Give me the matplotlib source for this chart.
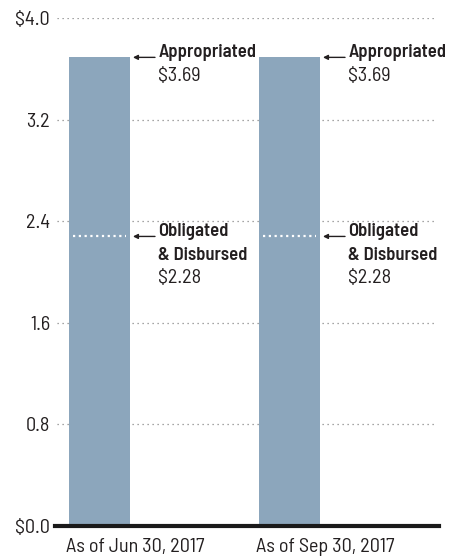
import matplotlib
matplotlib.use("Agg")
import matplotlib.pyplot as plt

plt.rcParams['font.family'] = ['Barlow Semi Condensed', 'DejaVu Sans']

periods = ["As of Jun 30, 2017", "As of Sep 30, 2017"]
appropriated = [3.69, 3.69]
obligated = [2.28, 2.28]
yticks = [0.0, 0.8, 1.6, 2.4, 3.2, 4.0]
ytick_labels = ["$0.0", "0.8", "1.6", "2.4", "3.2", "$4.0"]

bar_color = '#8CA6BC'
text_color = '#231F20'
bar_w = 0.32
fs = 14.5       # regular text
fs_bold = 13.4  # callout headings

fig = plt.figure(figsize=(4.55, 5.56), dpi=100)
ax = fig.add_axes([57 / 455, 30 / 556, 380 / 455, 508 / 556])

xs = list(range(len(periods)))
ax.bar(xs, appropriated, width=bar_w, color=bar_color, zorder=2)

# dotted gridlines
for y in yticks[1:]:
    ax.axhline(y, color='#888888', lw=0.9, ls=(0, (1, 3)), zorder=1)


def callout(x, y, lines):
    ax.annotate("", xy=(x + 0.176, y), xytext=(x + 0.292, y),
                arrowprops=dict(arrowstyle='-|>', color=text_color, lw=1.0,
                                mutation_scale=7, shrinkA=0, shrinkB=0))
    for k, (s, bold) in enumerate(lines):
        ax.text(x + 0.31, y - 0.185 * k, s, fontsize=fs_bold if bold else fs,
                color=text_color, fontweight=600 if bold else 'normal',
                va='baseline', ha='left')


for i, x in enumerate(xs):
    # obligated level inside the bar
    ax.plot([x - bar_w / 2 + 0.02, x + bar_w / 2 - 0.02], [obligated[i], obligated[i]],
            color='white', lw=1.6, ls=(0, (1, 1.6)), zorder=3)

    callout(x, appropriated[i], [("Appropriated", True), (f"${appropriated[i]:.2f}", False)])
    callout(x, obligated[i], [("Obligated", True), ("& Disbursed", True),
                              (f"${obligated[i]:.2f}", False)])

    ax.text(x - bar_w / 2 - 0.015, -0.205, periods[i], fontsize=fs, color=text_color,
            va='baseline', ha='left')

ax.axhline(0, color='#1a1a1a', lw=3.0, zorder=4, xmin=-0.005, xmax=1.005, clip_on=False)

ax.set_xlim(-0.2237, 1.776)
ax.set_ylim(0, 4.0)
ax.set_yticks(yticks)
ax.set_yticklabels(ytick_labels, fontsize=fs, color=text_color)
ax.tick_params(axis='y', length=0, pad=5)
ax.set_xticks([])
for s in ax.spines.values():
    s.set_visible(False)

fig.savefig("out.png", dpi=100)
